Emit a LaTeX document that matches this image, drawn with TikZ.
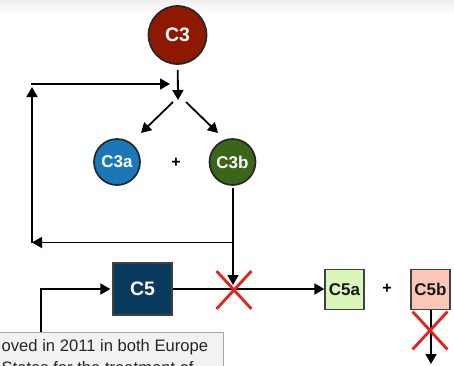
\documentclass[tikz,border=0pt]{standalone}
\usepackage{fontspec}
\setmainfont{Liberation Sans}
\usetikzlibrary{arrows.meta,shapes.misc}
\definecolor{cthree}{HTML}{8E1800}
\definecolor{cthreea}{HTML}{1B78B8}
\definecolor{cthreeb}{HTML}{3A6619}
\definecolor{cfive}{HTML}{073A5C}
\definecolor{cfivea}{HTML}{DAF6B8}
\definecolor{cfiveb}{HTML}{F9C6B8}
\definecolor{xred}{HTML}{E2221C}
\definecolor{notefill}{HTML}{F2F2F2}
\definecolor{noteline}{HTML}{A8A8A8}
\begin{document}
\begin{tikzpicture}[x=1pt,y=-1pt,
  arr/.style={line width=1.8pt,-{Triangle[length=10pt,width=11pt]}},
  circ/.style={circle,draw=black!85,line width=1.7pt,text=white,inner sep=0pt,
    font=\bfseries\fontsize{17}{17}\selectfont},
  sq/.style={rectangle,draw=black!75,line width=1.3pt,inner sep=0pt,
    font=\bfseries\fontsize{17}{17}\selectfont},
  plus/.style={font=\bfseries\fontsize{16}{16}\selectfont,inner sep=0pt},
  xmark/.style={cross out,draw=xred,line width=2.8pt,inner sep=0pt,
    minimum width=32pt,minimum height=35pt}]
\useasboundingbox (0,0) rectangle (454,365);
\clip (0,0) rectangle (454,365);
\fill[white] (0,0) rectangle (454,365);
\shade[top color=black!6,bottom color=white] (0,0) rectangle (454,15);

% nodes
\node[circ,fill=cthree,minimum size=58pt,font=\bfseries\fontsize{19.5}{19.5}\selectfont] (c3) at (177.5,35) {C3};
\node[circ,fill=cthreea,minimum size=46pt] (c3a) at (117,162) {C3a};
\node[circ,fill=cthreeb,minimum size=46pt] (c3b) at (232.5,162) {C3b};
\node[plus] (plusA) at (176,163) {+};
\node[sq,fill=cfive,text=white,minimum width=59pt,minimum height=52pt,
  font=\bfseries\fontsize{19.5}{19.5}\selectfont] (c5) at (142.5,289) {C5};
\node[sq,fill=cfivea,text=black!90,minimum width=39pt,minimum height=40pt] (c5a) at (344.5,289.5) {C5a};
\node[plus] (plusB) at (387,289) {+};
\node[sq,fill=cfiveb,text=black!90,minimum width=39pt,minimum height=40pt] (c5b) at (430.5,289.5) {C5b};

% note box
\node[rectangle,draw=noteline,fill=notefill,line width=0.8pt,
  minimum width=227pt,minimum height=60pt] (note) at (109.5,362) {};
\node[anchor=north west,align=left,inner sep=0pt,
  font=\fontsize{16.6}{21.5}\selectfont,text=black!85] (notetext) at (1.5,339.5)
  {oved in 2011 in both Europe\\ States for the treatment of};

% coordinates
\coordinate (split) at (178,100);
\coordinate (dlA) at (173,102);
\coordinate (dlB) at (141,133);
\coordinate (drA) at (186,102);
\coordinate (drB) at (218,133);
\coordinate (drop) at (233,285);
\coordinate (fbA) at (233,242.5);
\coordinate (fbB) at (32,242.5);
\coordinate (fbC) at (32,87);
\coordinate (fbD) at (31,84);
\coordinate (fbE) at (170,84);
\coordinate (ncol) at (41,300);
\coordinate (c5bend) at (431,364);

% connectors
\draw[arr,shorten <=5pt] (c3) -- (split);
\draw[arr] (dlA) -- (dlB);
\draw[arr] (drA) -- (drB);
\draw[arr,shorten <=2pt] (c3b.south -| drop) -- (drop);
\draw[arr] (fbA) -- (fbB);
\draw[arr] (fbB) -- (fbC);
\draw[arr] (fbD) -- (fbE);
\draw[arr,shorten >=2pt] (note.north -| ncol) |- (c5.west);
\draw[arr] (c5.east) -- (c5a.west |- c5.east);
\draw[arr] (c5b.south -| c5bend) -- (c5bend);

% red crosses
\node[xmark] (xA) at (234,290) {};
\node[xmark] (xB) at (430,330.5) {};
\end{tikzpicture}
\end{document}
